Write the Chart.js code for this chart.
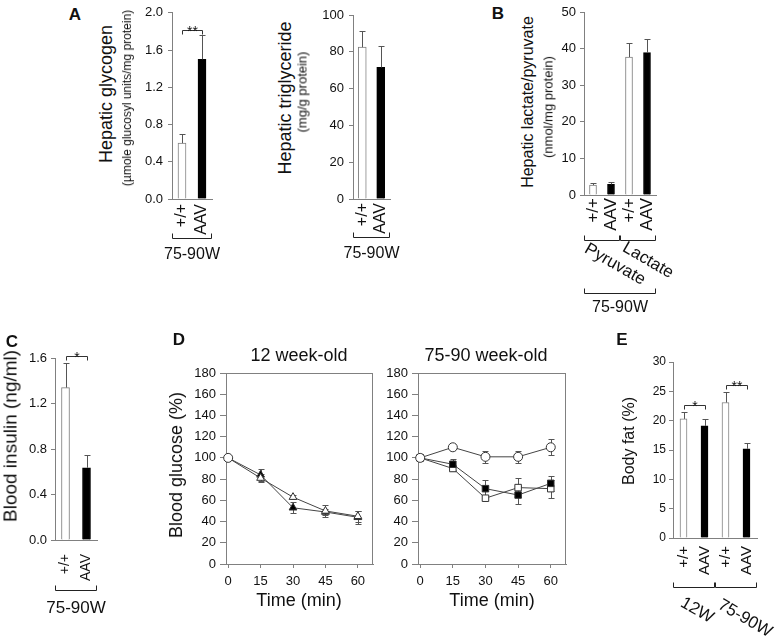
<!DOCTYPE html>
<html>
<head>
<meta charset="utf-8">
<script src="https://cdn.jsdelivr.net/npm/chart.js@4.4.0/dist/chart.umd.min.js"></script>
<style>
  html, body { margin: 0; padding: 0; background: #fff; }
  body { width: 780px; height: 639px; position: relative; overflow: hidden;
         font-family: 'Liberation Sans', Arial, sans-serif; color: #111; }
  canvas { position: absolute; }
  .txt { position: absolute; white-space: nowrap; line-height: 1; z-index: 2; }
</style>
</head>
<body>
<script>
// A - hepatic glycogen and triglyceride, 75-90W
var genoLabels = ['+/+', 'AAV'];
var glycogen = [0.60, 1.50];
var glycogenErr = [0.10, 0.26];
var triglyceride = [82.5, 71.5];
var triglycerideErr = [8.8, 11.5];

// B - hepatic pyruvate / lactate
var lacPyrLabels = ['+/+', 'AAV', '+/+', 'AAV'];
var lacPyr = [2.7, 2.9, 37.7, 38.9];
var lacPyrErr = [0.7, 0.6, 3.8, 3.6];

// C - blood insulin
var insulin = [1.34, 0.635];
var insulinErr = [0.22, 0.11];

// D - glucose tolerance, % of time 0
var timePoints = [0, 15, 30, 45, 60];
var youngWt = [100, 81, 63, 50, 45];
var youngWtErr = [0, 4, 2, 6, 5];
var youngAav = [100, 84, 53, 49, 44];
var youngAavErr = [0, 6, 5, 3, 6];
var oldCtrl = [100, 110, 101, 101, 110];
var oldCtrlErr = [0, 2, 5.5, 5.7, 7.5];
var oldAav = [100, 94, 71, 65, 76];
var oldAavErr = [0, 5, 8.6, 8.6, 7.3];
var oldWt = [100, 90, 62, 72, 71];
var oldWtErr = [0, 2, 2, 9, 8.5];

// E - body fat
var fatLabels = ['+/+', 'AAV', '+/+', 'AAV'];
var bodyFat = [20.3, 19.1, 23.1, 15.2];
var bodyFatErr = [1.2, 1.2, 1.8, 1.0];

var WHITE = '#ffffff', BLACK = '#000000', AXIS = '#808080';
Chart.defaults.font.family = "'Liberation Sans', Arial, sans-serif";
Chart.defaults.color = '#111';

function addText(str, x, y, size, rot, bold) {
    var d = document.createElement('div');
    d.className = 'txt';
    d.textContent = str;
    d.style.left = x + 'px';
    d.style.top = y + 'px';
    d.style.fontSize = size + 'px';
    if (bold) d.style.fontWeight = 'bold';
    d.style.transform = 'translate(-50%,-50%) rotate(' + (rot || 0) + 'deg)';
    document.body.appendChild(d);
}

function makeCanvas(box) {
    var cv = document.createElement('canvas');
    cv.width = box.w;
    cv.height = box.h;
    cv.style.left = box.x + 'px';
    cv.style.top = box.y + 'px';
    document.body.appendChild(cv);
    return cv;
}

// keep the chart area where the layout padding puts it
function fixXAxis(h) {
    return function(s) {
        s.height = h;
        s.paddingLeft = 0;
        s.paddingRight = 0;
    };
}

// bar panel with one-sided error bars, significance and group brackets
function barPanel(box, area, labels, values, errors, fills, opt) {
    var xH = opt.xH || 40;
    var extras = {
        id: 'barExtras',
        afterDatasetsDraw: function(chart) {
            var ctx = chart.ctx, y = chart.scales.y, ca = chart.chartArea;
            var meta = chart.getDatasetMeta(0);
            ctx.save();
            ctx.lineWidth = 1;
            ctx.strokeStyle = '#555';
            meta.data.forEach(function(bar, i) {
                var x = Math.round(bar.x) + 0.5;
                var top = y.getPixelForValue(values[i]);
                var hi = Math.round(y.getPixelForValue(values[i] + errors[i])) + 0.5;
                ctx.beginPath();
                ctx.moveTo(x, top); ctx.lineTo(x, hi);
                ctx.moveTo(x - 3, hi); ctx.lineTo(x + 3, hi);
                ctx.stroke();
            });
            // significance brackets
            ctx.strokeStyle = '#333';
            ctx.fillStyle = '#111';
            ctx.textAlign = 'center';
            ctx.textBaseline = 'alphabetic';
            ctx.font = '14px "Liberation Sans", Arial';
            (opt.sig || []).forEach(function(s) {
                var xa = Math.round(meta.data[s.a].x) + 0.5, xb = Math.round(meta.data[s.b].x) + 0.5;
                var yy = Math.round(y.getPixelForValue(s.v)) + 0.5;
                ctx.beginPath();
                ctx.moveTo(xa, yy + 4); ctx.lineTo(xa, yy); ctx.lineTo(xb, yy); ctx.lineTo(xb, yy + 4);
                ctx.stroke();
                ctx.fillText(s.t, (xa + xb) / 2, yy + 5);
            });
            // group brackets under the axis
            var cw = (ca.right - ca.left) / labels.length;
            ctx.strokeStyle = '#222';
            (opt.groups || []).forEach(function(g) {
                var xl = Math.round(meta.data[g.a].x - cw / 2) + 0.5;
                var xr = Math.round(meta.data[g.b].x + cw / 2) - 0.5;
                var yy = Math.round(ca.bottom + g.dy) + 0.5;
                ctx.beginPath();
                ctx.moveTo(xl, yy - 5); ctx.lineTo(xl, yy); ctx.lineTo(xr, yy); ctx.lineTo(xr, yy - 5);
                ctx.stroke();
                ctx.save();
                ctx.translate((xl + xr) / 2 + (g.dx || 0), yy + g.ldy);
                ctx.rotate((g.rot || 0) * Math.PI / 180);
                ctx.font = g.size + 'px "Liberation Sans", Arial';
                ctx.textBaseline = 'middle';
                ctx.fillText(g.label, 0, 0);
                ctx.restore();
            });
            ctx.restore();
        }
    };
    return new Chart(makeCanvas(box), {
        type: 'bar',
        data: {
            labels: labels,
            datasets: [{
                data: values,
                backgroundColor: fills,
                borderColor: fills.map(c => c === BLACK ? BLACK : AXIS),
                borderWidth: 1,
                barThickness: opt.bw
            }]
        },
        options: {
            responsive: false,
            animation: false,
            layout: { padding: { left: 0, top: area.t - box.y, right: box.x + box.w - area.r,
                                 bottom: box.y + box.h - area.b - xH } },
            plugins: { legend: { display: false }, tooltip: { enabled: false } },
            scales: {
                x: {
                    grid: { drawOnChartArea: false, drawTicks: false, color: AXIS },
                    border: { color: AXIS },
                    ticks: { minRotation: 90, maxRotation: 90, autoSkip: false, padding: opt.xPad,
                             font: { size: opt.xFont }, color: '#111' },
                    afterFit: fixXAxis(xH)
                },
                y: {
                    min: opt.min, max: opt.max,
                    grid: { drawOnChartArea: false, tickLength: 4, color: AXIS },
                    border: { color: AXIS },
                    ticks: { stepSize: opt.step, padding: opt.yPad, font: { size: opt.yFont }, color: '#111',
                             callback: v => v.toFixed(opt.dec || 0) },
                    afterFit: function(s) { s.width = area.l - box.x; }
                }
            }
        },
        plugins: [extras]
    });
}

function pts(vals) {
    return vals.map((v, i) => ({ x: timePoints[i], y: v }));
}

// glucose tolerance panel with framed plot area and +/- error bars
function linePanel(box, area, series) {
    var xH = 28;
    var extras = {
        id: 'lineExtras',
        beforeDatasetsDraw: function(chart) {
            var ctx = chart.ctx, ca = chart.chartArea, x = chart.scales.x, y = chart.scales.y;
            ctx.save();
            ctx.lineWidth = 1;
            ctx.strokeStyle = AXIS;
            ctx.strokeRect(Math.round(ca.left) + 0.5, Math.round(ca.top) + 0.5,
                           Math.round(ca.right - ca.left) - 1, Math.round(ca.bottom - ca.top));
            ctx.strokeStyle = '#555';
            series.forEach(function(s) {
                s.data.forEach(function(v, i) {
                    if (!s.err[i]) return;
                    var px = Math.round(x.getPixelForValue(timePoints[i])) + 0.5;
                    var lo = Math.round(y.getPixelForValue(v - s.err[i])) + 0.5;
                    var hi = Math.round(y.getPixelForValue(v + s.err[i])) + 0.5;
                    ctx.beginPath();
                    ctx.moveTo(px, lo); ctx.lineTo(px, hi);
                    ctx.moveTo(px - 3, lo); ctx.lineTo(px + 3, lo);
                    ctx.moveTo(px - 3, hi); ctx.lineTo(px + 3, hi);
                    ctx.stroke();
                });
            });
            ctx.restore();
        }
    };
    return new Chart(makeCanvas(box), {
        type: 'line',
        data: {
            datasets: series.map(s => ({
                data: pts(s.data),
                borderColor: '#444',
                borderWidth: 1,
                pointStyle: s.style,
                pointRadius: s.r,
                pointBackgroundColor: s.fill,
                pointBorderColor: '#333',
                pointBorderWidth: 1,
                clip: false
            }))
        },
        options: {
            responsive: false,
            animation: false,
            layout: { padding: { left: 0, top: area.t - box.y, right: box.x + box.w - area.r,
                                 bottom: box.y + box.h - area.b - xH } },
            plugins: { legend: { display: false }, tooltip: { enabled: false } },
            scales: {
                x: {
                    type: 'linear', min: -1, max: 67,
                    afterBuildTicks: function(s) { s.ticks = timePoints.map(v => ({ value: v })); },
                    grid: { drawOnChartArea: false, tickLength: 4, color: AXIS },
                    border: { color: AXIS },
                    ticks: { padding: 6, maxRotation: 0, font: { size: 13 }, color: '#111' },
                    afterFit: fixXAxis(xH)
                },
                y: {
                    min: 0, max: 180,
                    grid: { drawOnChartArea: false, tickLength: 6, color: AXIS },
                    border: { color: AXIS },
                    ticks: { stepSize: 20, padding: 4, font: { size: 13 }, color: '#111' },
                    afterFit: function(s) { s.width = area.l - box.x; }
                }
            }
        },
        plugins: [extras]
    });
}

// Panel A
barPanel({ x: 130, y: 0, w: 100, h: 275 }, { l: 172, t: 8, r: 212, b: 199 },
    genoLabels, glycogen, glycogenErr, [WHITE, BLACK],
    { min: 0, max: 2, step: 0.4, dec: 1, yFont: 13, yPad: 5, xFont: 16, xPad: 5, bw: 8,
      sig: [{ a: 0, b: 1, v: 1.82, t: '**' }],
      groups: [{ a: 0, b: 1, dy: 39, label: '75-90W', ldy: 16, size: 16 }] });
barPanel({ x: 300, y: 0, w: 110, h: 275 }, { l: 353, t: 15, r: 390, b: 199 },
    genoLabels, triglyceride, triglycerideErr, [WHITE, BLACK],
    { min: 0, max: 100, step: 20, yFont: 13, yPad: 5, xFont: 16, xPad: 4, bw: 8,
      groups: [{ a: 0, b: 1, dy: 38, label: '75-90W', ldy: 16, size: 16 }] });

// Panel B
barPanel({ x: 540, y: 0, w: 135, h: 320 }, { l: 584, t: 12, r: 656, b: 195 },
    lacPyrLabels, lacPyr, lacPyrErr, [WHITE, BLACK, WHITE, BLACK],
    { min: 0, max: 50, step: 10, yFont: 13, yPad: 4, xFont: 17, xPad: 3, bw: 7,
      groups: [{ a: 0, b: 1, dy: 45, label: 'Pyruvate', dx: 13, ldy: 24, rot: 30, size: 17 },
               { a: 2, b: 3, dy: 45, label: 'Lactate', dx: 10, ldy: 20, rot: 30, size: 17 },
               { a: 0, b: 3, dy: 98, label: '75-90W', ldy: 14, size: 16 }] });

// Panel C
barPanel({ x: 0, y: 330, w: 110, h: 300 }, { l: 55, t: 358, r: 97, b: 540 },
    genoLabels, insulin, insulinErr, [WHITE, BLACK],
    { min: 0, max: 1.6, step: 0.4, dec: 1, yFont: 13, yPad: 4, xFont: 14, xPad: 14, bw: 8, xH: 45,
      sig: [{ a: 0, b: 1, v: 1.62, t: '*' }],
      groups: [{ a: 0, b: 1, dy: 50, label: '75-90W', ldy: 18, size: 17 }] });

// Panel D
linePanel({ x: 180, y: 360, w: 200, h: 235 }, { l: 226, t: 373, r: 373, b: 564 }, [
    { data: youngWt, err: youngWtErr, style: ['circle', 'triangle', 'triangle', 'triangle', 'triangle'], r: 4.5, fill: WHITE },
    { data: youngAav, err: youngAavErr, style: 'triangle', r: 4.5, fill: BLACK }
]);
linePanel({ x: 380, y: 360, w: 195, h: 235 }, { l: 418, t: 373, r: 566, b: 564 }, [
    { data: oldCtrl, err: oldCtrlErr, style: 'circle', r: 4.5, fill: WHITE },
    { data: oldAav, err: oldAavErr, style: 'rect', r: 4.6, fill: BLACK },
    { data: oldWt, err: oldWtErr, style: 'rect', r: 4.6, fill: WHITE }
]);

// Panel E
barPanel({ x: 635, y: 345, w: 145, h: 294 }, { l: 673, t: 362, r: 757, b: 538 },
    fatLabels, bodyFat, bodyFatErr, [WHITE, BLACK, WHITE, BLACK],
    { min: 0, max: 30, step: 5, yFont: 12, yPad: 3, xFont: 15, xPad: 8, bw: 7, xH: 45,
      sig: [{ a: 0, b: 1, v: 22.6, t: '*' }, { a: 2, b: 3, v: 26, t: '**' }],
      groups: [{ a: 0, b: 1, dy: 49, label: '12W', dx: 3, ldy: 23, rot: 30, size: 17 },
               { a: 2, b: 3, dy: 49, label: '75-90W', dx: 9, ldy: 31, rot: 30, size: 17 }] });

// panel letters and axis titles
addText('A', 75, 14, 17, 0, true);
addText('B', 498, 13, 17, 0, true);
addText('C', 12, 341, 17, 0, true);
addText('D', 179, 339, 17, 0, true);
addText('E', 622, 339, 17, 0, true);
addText('Hepatic glycogen', 105.5, 94, 18, -90);
addText('(\u00b5mole glucosyl units/mg protein)', 126.5, 98, 12, -90);
addText('Hepatic triglyceride', 285, 97.5, 18, -90);
addText('(mg/g protein)', 302, 92, 13, -90);
addText('Hepatic lactate/pyruvate', 528, 102, 16, -90);
addText('(nmol/mg protein)', 548, 107, 13, -90);
addText('Blood insulin (ng/ml)', 9.5, 436, 19, -90);
addText('Blood glucose (%)', 175.5, 465, 18, -90);
addText('Body fat (%)', 629, 441, 16, -90);
addText('12 week-old', 299, 355, 18);
addText('75-90 week-old', 486, 355, 18);
addText('Time (min)', 299, 600, 18);
addText('Time (min)', 492, 600, 18);
</script>
</body>
</html>
